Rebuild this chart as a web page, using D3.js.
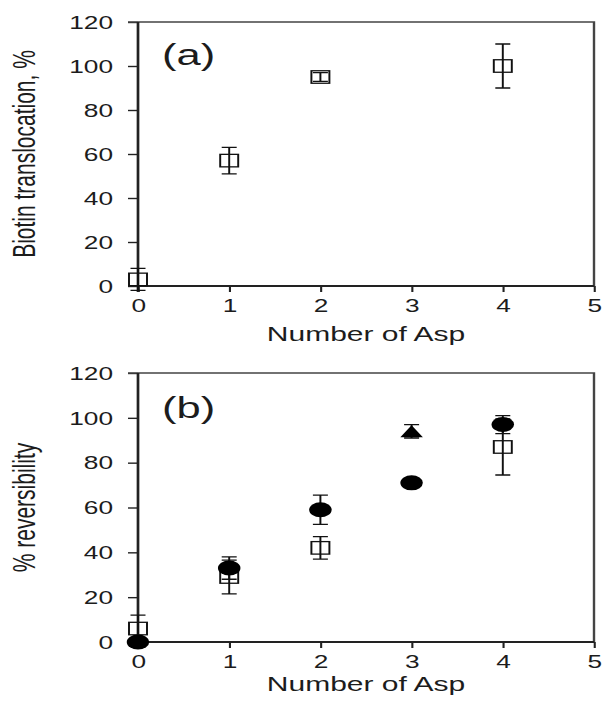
<!DOCTYPE html>
<html>
<head>
<meta charset="utf-8">
<script src="https://cdn.jsdelivr.net/npm/d3@7"></script>
<style>
  html, body { margin: 0; padding: 0; background: #fff; }
  svg { display: block; }
  text { font-family: "Liberation Sans", Arial, Helvetica, sans-serif; fill: #1c1c1c; }
</style>
</head>
<body>
<div id="chart"></div>
<script>
// Shared axis settings
const xTicks = [0, 1, 2, 3, 4, 5];
const yTicks = [0, 20, 40, 60, 80, 100, 120];
const xTitle = "Number of Asp";

// Panel (a): biotin translocation vs number of Asp residues
const transX = [0, 1, 2, 4];
const transMean = [3, 57, 95, 100];
const transErr = [5, 6, 2, 10];

// Panel (b): % reversibility, three series
const revSquareX = [0, 1, 2, 4];
const revSquareMean = [6, 29, 42, 87];
const revSquareErr = [6, 7.5, 5, 12.5];

const revCircleX = [0, 1, 2, 3, 4];
const revCircleMean = [0, 33, 59, 71, 97];
const revCircleErr = [0, 5, 6.5, 0, 4];

const revTriangleX = [3];
const revTriangleMean = [94];
const revTriangleErr = [3];

// The figure is drawn in a horizontally compressed user space and stretched
// back out to the full width, giving the wide lettering and oval markers.
const W = 605, H = 702, S = 1.5;
const VW = W / S;

const svg = d3.select("#chart").append("svg")
  .attr("width", W).attr("height", H)
  .attr("viewBox", `0 0 ${VW} ${H}`)
  .attr("preserveAspectRatio", "none");

const zip = (xs, ms, es) => xs.map((x, i) => ({ x, m: ms[i], e: es[i] }));
const intFmt = d3.format("d");

function drawPanel(opts) {
  const x = d3.scaleLinear().domain([0, 5]).range([138 / S, 594 / S]);
  const y = d3.scaleLinear().domain([0, 120]).range([opts.bottom, opts.top]);
  const g = svg.append("g");

  // y axis ticks and labels
  const ya = g.append("g").attr("transform", `translate(${x(0)},0)`)
    .call(d3.axisLeft(y).tickValues(yTicks).tickFormat(intFmt).tickSize(10 / S).tickPadding(10));
  ya.select(".domain").remove();
  ya.selectAll("line").attr("stroke", "#222").attr("stroke-width", 1.4);
  ya.selectAll("text").attr("font-size", 17.5).attr("fill", "#1c1c1c")
    .attr("dy", "0.36em");

  // x axis ticks and labels
  const xa = g.append("g").attr("transform", `translate(0,${y(0)})`)
    .call(d3.axisBottom(x).tickValues(xTicks).tickFormat(intFmt).tickSize(6).tickPadding(8));
  xa.select(".domain").remove();
  xa.selectAll("line").attr("stroke", "#222").attr("stroke-width", 1.4);
  xa.selectAll("text").attr("font-size", 17.5).attr("fill", "#1c1c1c");

  // frame: top and right borders, then the two axis lines
  g.append("path")
    .attr("d", `M${x(0) - 10 / S},${y(120)}H${x(5)}V${y(0)}`)
    .attr("fill", "none").attr("stroke", "#444").attr("stroke-width", 1.6);
  g.append("path")
    .attr("d", `M${x(0)},${y(120)}V${y(0) + 6}M${x(0)},${y(0)}H${x(5)}`)
    .attr("fill", "none").attr("stroke", "#222").attr("stroke-width", 1.8);

  // axis titles
  g.append("text")
    .attr("x", (x(0) + x(5)) / 2).attr("y", opts.xTitleY)
    .attr("text-anchor", "middle").attr("font-size", 20)
    .text(xTitle);
  g.append("text")
    .attr("transform", `translate(${35 / S},${(y(0) + y(120)) / 2}) rotate(-90)`)
    .attr("text-anchor", "middle").attr("font-size", 21)
    .text(opts.yTitle);

  // panel tag
  g.append("text")
    .attr("x", 162 / S).attr("y", opts.tagY)
    .attr("font-size", 29)
    .text(opts.tag);

  const capW = 10;
  function errorBars(data) {
    const eb = g.append("g").attr("stroke", "#111").attr("stroke-width", 1.3).attr("fill", "none");
    data.filter(d => d.e > 0).forEach(d => {
      const cx = x(d.x), y1 = y(d.m + d.e), y2 = y(d.m - d.e);
      eb.append("path")
        .attr("d", `M${cx},${y1}V${y2}M${cx - capW / 2},${y1}h${capW}M${cx - capW / 2},${y2}h${capW}`);
    });
  }

  opts.series.forEach(s => {
    const data = zip(s.x, s.m, s.e);
    errorBars(data);
    const mg = g.append("g");
    if (s.shape === "square") {
      const w = 12, h = 12.5;
      mg.selectAll("rect").data(data).join("rect")
        .attr("x", d => x(d.x) - w / 2).attr("y", d => y(d.m) - h / 2)
        .attr("width", w).attr("height", h)
        .attr("fill", "none").attr("stroke", "#111").attr("stroke-width", 1.3);
    } else if (s.shape === "circle") {
      mg.selectAll("circle").data(data).join("circle")
        .attr("cx", d => x(d.x)).attr("cy", d => y(d.m)).attr("r", 7.5)
        .attr("fill", "#000");
    } else if (s.shape === "triangle") {
      mg.selectAll("path").data(data).join("path")
        .attr("d", d => {
          const cx = x(d.x), cy = y(d.m);
          return `M${cx},${cy - 6}L${cx + 7.5},${cy + 6}L${cx - 7.5},${cy + 6}Z`;
        })
        .attr("fill", "#000");
    }
  });
}

drawPanel({
  top: 22, bottom: 286, xTitleY: 341, tagY: 65, tag: "(a)",
  yTitle: "Biotin translocation, %",
  series: [{ shape: "square", x: transX, m: transMean, e: transErr }]
});

drawPanel({
  top: 373, bottom: 642, xTitleY: 691, tagY: 418, tag: "(b)",
  yTitle: "% reversibility",
  series: [
    { shape: "square", x: revSquareX, m: revSquareMean, e: revSquareErr },
    { shape: "circle", x: revCircleX, m: revCircleMean, e: revCircleErr },
    { shape: "triangle", x: revTriangleX, m: revTriangleMean, e: revTriangleErr }
  ]
});
</script>
</body>
</html>
